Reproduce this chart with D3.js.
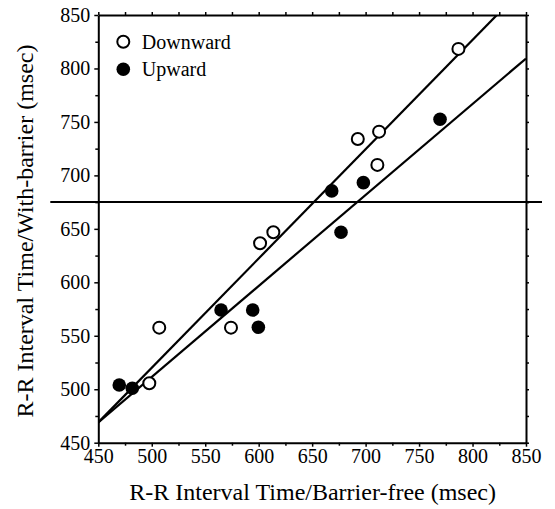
<!DOCTYPE html>
<html>
<head>
<meta charset="utf-8">
<script src="https://cdn.jsdelivr.net/npm/d3@7"></script>
<style>
  html, body { margin: 0; padding: 0; background: #fff; }
  svg text { font-family: "Liberation Serif", "Times New Roman", serif; fill: #000; }
</style>
</head>
<body>
<svg id="chart" width="555" height="509"></svg>
<script>
// ---- data ----
const downwardX = [497.7, 507, 574.1, 601.3, 613.7, 692.7, 712.6, 711, 786.8];
const downwardY = [505.6, 557.6, 557.6, 636.5, 646.8, 734.1, 740.9, 709.8, 818.3];
const upwardX = [469.6, 481.8, 564.8, 594.4, 599.7, 677, 769.6, 697.9, 668.3];
const upwardY = [504, 500.9, 574.1, 574.1, 558, 646.8, 752.5, 693.2, 685.5];
// fitted lines: y = intercept + slope * x
const fitNames = ["Downward", "Upward"];
const fitIntercepts = [9.1, 86.0];
const fitSlopes = [1.022, 0.851];
const referenceY = [675];
const tickValues = [450, 500, 550, 600, 650, 700, 750, 800, 850];
const minorTickValues = [475, 525, 575, 625, 675, 725, 775, 825];
const legendLabels = ["Downward", "Upward"];
const xTitle = "R-R Interval Time/Barrier-free (msec)";
const yTitle = "R-R Interval Time/With-barrier (msec)";

(function () {
// ---- layout ----
const svg = d3.select("#chart");
const pL = 98.3, pR = 526, pT = 15, pB = 442.7;
const x = d3.scaleLinear().domain([450, 850]).range([pL, pR]);
const y = d3.scaleLinear().domain([450, 850]).range([pB, pT]);

const tickFont = "20px";

function styleAxis(g) {
  g.attr("font-family", null).attr("font-size", null);
  g.select(".domain").attr("stroke", "#000").attr("stroke-width", 2);
  g.selectAll(".tick line").attr("stroke", "#000").attr("stroke-width", 1.5);
  g.selectAll("text").style("font-size", tickFont).style("font-family", '"Liberation Serif", serif').attr("fill", "#000");
}
function styleMinor(g) {
  g.select(".domain").remove();
  g.selectAll(".tick line").attr("stroke", "#000").attr("stroke-width", 1.5);
}

// bottom
svg.append("g").attr("transform", `translate(0,${pB})`)
  .call(d3.axisBottom(x).tickValues(tickValues).tickFormat(d3.format("d")).tickSize(4).tickSizeOuter(0).tickPadding(2))
  .call(styleAxis);
svg.append("g").attr("transform", `translate(0,${pB})`)
  .call(d3.axisBottom(x).tickValues(minorTickValues).tickFormat("").tickSize(3).tickSizeOuter(0))
  .call(styleMinor);

// left
svg.append("g").attr("transform", `translate(${pL},0)`)
  .call(d3.axisLeft(y).tickValues(tickValues).tickFormat(d3.format("d")).tickSize(4).tickSizeOuter(0).tickPadding(4))
  .call(styleAxis);
svg.append("g").attr("transform", `translate(${pL},0)`)
  .call(d3.axisLeft(y).tickValues(minorTickValues).tickFormat("").tickSize(3).tickSizeOuter(0))
  .call(styleMinor);

// top
svg.append("g").attr("transform", `translate(0,${pT})`)
  .call(d3.axisTop(x).tickValues(tickValues.concat(minorTickValues)).tickFormat("").tickSize(3).tickSizeOuter(0))
  .call(styleAxis);

// right
svg.append("g").attr("transform", `translate(${pR},0)`)
  .call(d3.axisRight(y).tickValues(tickValues.concat(minorTickValues)).tickFormat("").tickSize(3).tickSizeOuter(0))
  .call(styleAxis);

// reference horizontal line (extends beyond the frame)
svg.selectAll(".refline").data(referenceY).join("line")
  .attr("class", "refline")
  .attr("x1", x(450) - 48).attr("x2", x(850) + 16)
  .attr("y1", d => y(d)).attr("y2", d => y(d))
  .attr("stroke", "#000").attr("stroke-width", 2);

// fit lines, clipped to plot area
svg.append("clipPath").attr("id", "plotclip")
  .append("rect").attr("x", pL).attr("y", pT).attr("width", pR - pL).attr("height", pB - pT);
const fits = fitNames.map((n, i) => ({ name: n, a: fitIntercepts[i], b: fitSlopes[i] }));
svg.append("g").attr("clip-path", "url(#plotclip)")
  .selectAll("line").data(fits).join("line")
  .attr("x1", x(450)).attr("y1", d => y(d.a + d.b * 450))
  .attr("x2", x(850)).attr("y2", d => y(d.a + d.b * 850))
  .attr("stroke", "#000").attr("stroke-width", 2.2);

// points
const r = 6.5;
const down = downwardX.map((v, i) => [v, downwardY[i]]);
const up = upwardX.map((v, i) => [v, upwardY[i]]);
svg.append("g").selectAll("circle").data(down).join("circle")
  .attr("cx", d => x(d[0])).attr("cy", d => y(d[1])).attr("r", r - 0.5)
  .attr("fill", "#fff").attr("stroke", "#000").attr("stroke-width", 2);
svg.append("g").selectAll("circle").data(up).join("circle")
  .attr("cx", d => x(d[0])).attr("cy", d => y(d[1])).attr("r", r + 0.3)
  .attr("fill", "#000").attr("stroke", "none");

// legend
const leg = svg.append("g").attr("transform", "translate(123.3,41.7)");
legendLabels.forEach((lab, i) => {
  const g = leg.append("g").attr("transform", `translate(0,${i * 27.6})`);
  if (i === 0) {
    g.append("circle").attr("r", r - 0.5).attr("fill", "#fff").attr("stroke", "#000").attr("stroke-width", 2);
  } else {
    g.append("circle").attr("r", r + 0.3).attr("fill", "#000");
  }
  g.append("text").attr("x", 18.5).attr("y", 7).style("font-size", "20px").text(lab);
});

// axis titles
svg.append("text").attr("x", (pL + pR) / 2 + 0.5).attr("y", 500)
  .attr("text-anchor", "middle").style("font-size", "24px").text(xTitle);
svg.append("text").attr("transform", "translate(33,231) rotate(-90)")
  .attr("text-anchor", "middle").style("font-size", "24px").text(yTitle);
})();
</script>
</body>
</html>
